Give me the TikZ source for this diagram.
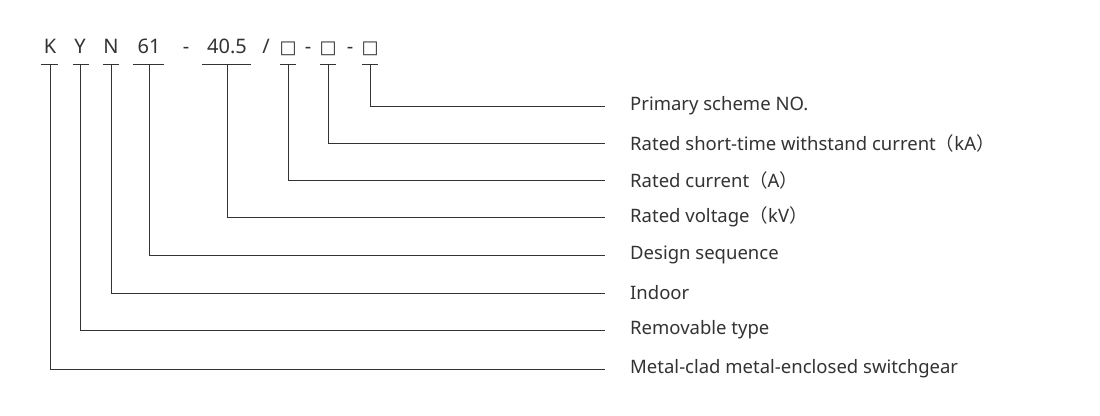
\documentclass[tikz,border=0pt]{standalone}
\usepackage{fontspec}
\setmainfont{Noto Sans}
\newfontfamily\symfont{DejaVu Sans}
\newfontfamily\cjk{Noto Sans CJK SC}
\begin{document}
\begin{tikzpicture}[x=1pt,y=-1pt,
  lbl/.style={anchor=west,inner sep=0,font=\fontsize{18.5}{22}\selectfont,text=black!80},
  code/.style={inner sep=0,font=\fontsize{20}{24}\selectfont,text=black!80,anchor=base},
  ln/.style={line width=0.9pt,black!80}]
\useasboundingbox (0,0) rectangle (1100,415);
\fill[white] (0,0) rectangle (1100,415);
\node[code] (cK) at (50,53) {K};
\node[code] (cY) at (80,53) {Y};
\node[code] (cN) at (111,53) {N};
\node[code] (c61) at (149,53) {61};
\node[code] at (186,53) {-};
\node[code] (c40) at (227,53) {40.5};
\node[code] at (266,53) {/};
\node[code] (b1) at (288,53) {\symfont\fontsize{18}{20}\selectfont □};
\node[code] at (308,53) {-};
\node[code] (b2) at (328,53) {\symfont\fontsize{18}{20}\selectfont □};
\node[code] at (350,53) {-};
\node[code] (b3) at (370,53) {\symfont\fontsize{18}{20}\selectfont □};
\foreach \n/\x/\a/\b/\y/\t in {
 p/370/362/378/106/Primary scheme NO.,
 s/328/320/336/143/Rated short-time withstand current{\cjk（}kA{\cjk）},
 c/288/280/296/180/Rated current{\cjk（}A{\cjk）},
 v/227/202/251/217/Rated voltage{\cjk（}kV{\cjk）},
 d/149/133/164/255/Design sequence,
 i/111/103/119/293/Indoor,
 r/80/73/89/330/Removable type,
 m/50/41/58/369/Metal-clad metal-enclosed switchgear}{
  \coordinate (u\n) at (\x,64);
  \coordinate (e\n) at (605,\y);
  \node[lbl] (l\n) at (630,\y) {\t};
  \draw[ln] (\a,64) -- (\b,64);
  \draw[ln] (u\n) |- (e\n);
}
\end{tikzpicture}
\end{document}
